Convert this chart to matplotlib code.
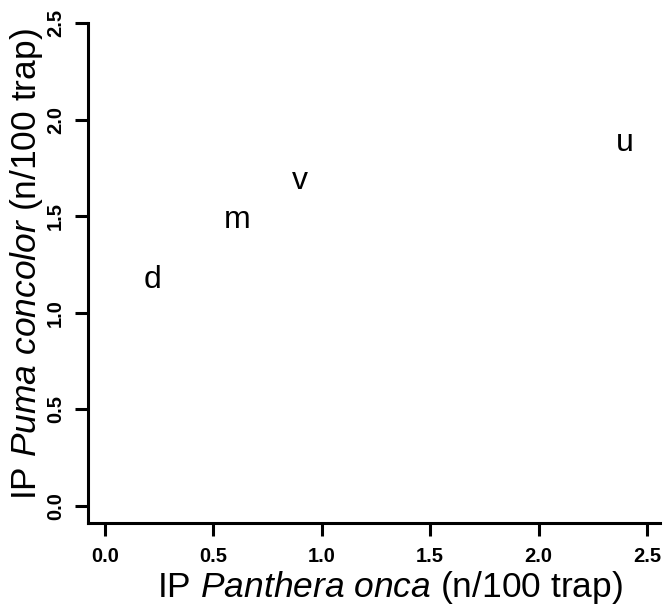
import matplotlib.pyplot as plt

# site labels and their indices (n/100 trap)
sites = ['d', 'm', 'v', 'u']
onca = [0.22, 0.61, 0.90, 2.40]
concolor = [1.17, 1.48, 1.68, 1.88]

ticks = [0.0, 0.5, 1.0, 1.5, 2.0, 2.5]
tick_labels = ['0.0', '0.5', '1.0', '1.5', '2.0', '2.5']

plt.rcParams['font.family'] = ['Liberation Sans', 'DejaVu Sans']
plt.rcParams['mathtext.fontset'] = 'custom'
plt.rcParams['mathtext.rm'] = 'Liberation Sans'
plt.rcParams['mathtext.it'] = 'Liberation Sans:italic'

fig = plt.figure(figsize=(6.63, 6.14), dpi=100)
ax = fig.add_axes([88 / 663, 1 - 523 / 614, (660 - 88) / 663, (523 - 23) / 614])

for s, x, y in zip(sites, onca, concolor):
    ax.text(x, y, s, ha='center', va='center', fontsize=23)

ax.set_xlim(-0.078, 2.56)
ax.set_ylim(-0.089, 2.5)

ax.spines['top'].set_visible(False)
ax.spines['right'].set_visible(False)
for side in ['left', 'bottom']:
    ax.spines[side].set_linewidth(2.2)

ax.set_xticks(ticks)
ax.set_xticklabels(tick_labels, fontweight='heavy')
ax.set_yticks(ticks)
ax.set_yticklabels(tick_labels, fontweight='heavy', rotation=90, va='center')
ax.tick_params(axis='both', length=9.5, width=2.2, labelsize=14.5)
ax.tick_params(axis='x', pad=8)
ax.tick_params(axis='y', pad=7)

ax.set_xlabel('IP $\\mathit{Panthera\\ onca}$ (n/100 trap)', fontsize=25.5,
              va='baseline')
ax.xaxis.set_label_coords((390 - 88) / 572, (523 - 597) / 500)
ax.set_ylabel('IP $\\mathit{Puma\\ concolor}$ (n/100 trap)', fontsize=25.5,
              va='baseline', ha='center', rotation_mode='anchor')
ax.yaxis.set_label_coords((36 - 88) / 572, (523 - 264) / 500)

fig.savefig('out.png', dpi=100)
